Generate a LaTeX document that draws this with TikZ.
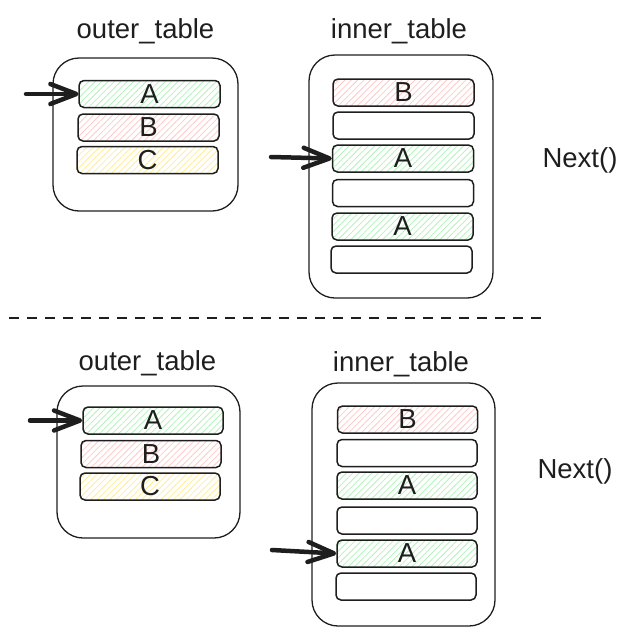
\documentclass[tikz,border=0pt]{standalone}
\usepackage{fontspec}
\setmainfont{Liberation Sans}
\usetikzlibrary{arrows.meta,patterns.meta}
\definecolor{ink}{HTML}{1E1E1E}
\definecolor{hgreen}{HTML}{B2F2BB}
\definecolor{hred}{HTML}{FFC9C9}
\definecolor{hyellow}{HTML}{FFEC99}
\tikzset{
  lbl/.style={font=\fontsize{27.5}{33}\selectfont, text=ink, inner sep=0pt},
  titletext/.style={lbl, anchor=base},
  outerbox/.style={draw=ink, line width=1.3pt, rounded corners=26pt, inner sep=0pt},
  rowbox/.style={draw=ink, line width=1.5pt, rounded corners=5pt, minimum width=141pt, minimum height=27pt, lbl},
  hatchfill/.style={pattern={Lines[angle=45,distance=4.5pt,line width=0.8pt]}, pattern color=#1},
  greenrow/.style={rowbox, hatchfill=hgreen},
  redrow/.style={rowbox, hatchfill=hred},
  yellowrow/.style={rowbox, hatchfill=hyellow},
  emptyrow/.style={rowbox, fill=white},
  ptr/.style={draw=ink, line width=4.5pt, line cap=round, -{Straight Barb[length=26pt,width=20pt,line width=0pt 1,round]}},
  sepline/.style={draw=ink, line width=2.5pt, dash pattern=on 10pt off 8pt}
}
\begin{document}
\begin{tikzpicture}[x=1pt,y=-1pt]
\useasboundingbox (0,0) rectangle (627,635);
% ---------- top half ----------
\node[titletext] (t1) at (145.5,38) {outer\_table};
\node[titletext] (t2) at (399,38) {inner\_table};
\node[outerbox, minimum width=185pt, minimum height=153pt] (ob1) at (145.5,134.5) {};
\node[greenrow, minimum width=141pt] (oa1) at (149.5,94) {A};
\node[redrow] (ob1b) at (148.5,127.5) {B};
\node[yellowrow] (oc1) at (147.5,160) {C};
\node[outerbox, minimum width=184pt, minimum height=243pt] (ib1) at (401,176.5) {};
\node[redrow] (i1r1) at (403.5,92.5) {B};
\node[emptyrow] (i1r2) at (403.5,125.5) {};
\node[greenrow] (i1r3) at (403,158.5) {A};
\node[emptyrow] (i1r4) at (403,193) {};
\node[greenrow] (i1r5) at (402.5,226.5) {A};
\node[emptyrow] (i1r6) at (401.5,259.5) {};
\node[titletext] (n1) at (580,167) {Next()};
\coordinate (s1) at (26,94);
\coordinate (s2) at (271,157);
\draw[ptr] (s1) -- (oa1.west);
\draw[ptr] (s2) -- (i1r3.west);
% ---------- separator ----------
\coordinate (d1) at (9,318);
\coordinate (d2) at (542,318);
\draw[sepline] (d1) -- (d2);
% ---------- bottom half ----------
\node[titletext] (t3) at (147.5,370) {outer\_table};
\node[titletext] (t4) at (401,371) {inner\_table};
\node[outerbox, minimum width=183pt, minimum height=152pt] (ob2) at (148.5,462) {};
\node[greenrow, minimum width=140pt] (oa2) at (153,420.5) {A};
\node[redrow, minimum width=140pt] (ob2b) at (151,454) {B};
\node[yellowrow, minimum width=140pt] (oc2) at (150,486.5) {C};
\node[outerbox, minimum width=183pt, minimum height=243pt] (ib2) at (403.5,504.5) {};
\node[redrow, minimum width=140pt] (i2r1) at (407.5,419.5) {B};
\node[emptyrow, minimum width=140pt] (i2r2) at (407,453) {};
\node[greenrow, minimum width=140pt] (i2r3) at (407,485.5) {A};
\node[emptyrow, minimum width=140pt] (i2r4) at (407,520.5) {};
\node[greenrow, minimum width=140pt] (i2r5) at (407,553.5) {A};
\node[emptyrow, minimum width=140pt] (i2r6) at (406,586.5) {};
\node[titletext] (n2) at (575,478) {Next()};
\coordinate (s3) at (30,420.5);
\coordinate (s4) at (272,550);
\draw[ptr] (s3) -- (oa2.west);
\draw[ptr] (s4) -- (i2r5.west);
\end{tikzpicture}
\end{document}
